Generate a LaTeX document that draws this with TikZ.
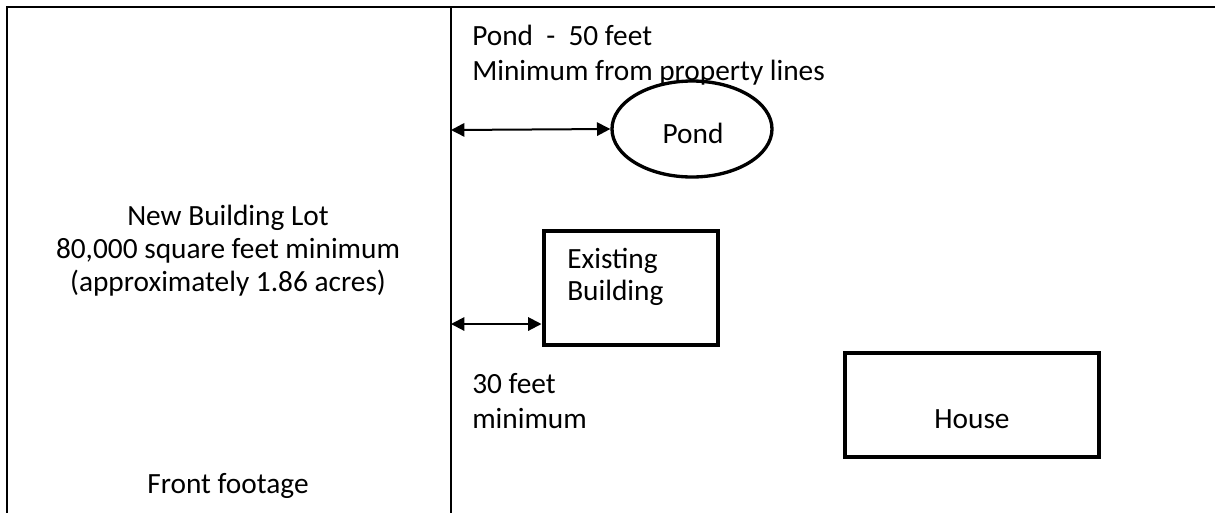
\documentclass[tikz,border=0pt]{standalone}
\usepackage{fontspec}
\setmainfont{Carlito}
\usetikzlibrary{arrows.meta,shapes.geometric}
\begin{document}
\begin{tikzpicture}[x=0.75pt,y=-0.75pt,
  lbl/.style={inner sep=0pt,anchor=base,font=\fontsize{22}{26}\selectfont},
  lbll/.style={lbl,anchor=base west},
  boxshape/.style={draw,line width=3pt},
  dim/.style={line width=1.5pt,{Triangle[length=10pt,width=10pt]}-{Triangle[length=10pt,width=10pt]}}]
\useasboundingbox (0,0) rectangle (1215,512);
\draw[line width=2pt] (7,514) -- (7,7) -- (1217,7);
\draw[line width=1.5pt] (451,7) -- (451,514);
\coordinate (pl) at (451,130);
\coordinate (bl) at (451,324);
\node[draw,ellipse,line width=2.5pt,minimum width=120pt,minimum height=72pt,inner sep=0pt] (pond) at (692,129) {};
\node[lbl] (pondt) at (693,143) {Pond};
\node[boxshape,minimum width=130.5pt,minimum height=85.5pt,inner sep=0pt] (bld) at (630.5,287.5) {};
\node[lbll] (b1) at (567,268) {Existing};
\node[lbll] (b2) at (567,300) {Building};
\node[boxshape,minimum width=190.5pt,minimum height=78pt,inner sep=0pt] (house) at (972,404.5) {};
\node[lbl] (houset) at (972,428) {House};
\draw[dim] (pl) -- (pond.west);
\draw[dim] (bl) -- (bld.west |- bl);
\node[lbl] (l1) at (228,225) {New Building Lot};
\node[lbl] (l2) at (228,258) {80,000 square feet minimum};
\node[lbl] (l3) at (228,291) {(approximately 1.86 acres)};
\node[lbl] (ff) at (228,493) {Front footage};
\node[lbll] (p1) at (472,45) {Pond\ \ -\ \ 50 feet};
\node[lbll] (p2) at (472,80) {Minimum from property lines};
\node[lbll] (t1) at (472,393) {30 feet};
\node[lbll] (t2) at (472,428) {minimum};
\end{tikzpicture}
\end{document}
